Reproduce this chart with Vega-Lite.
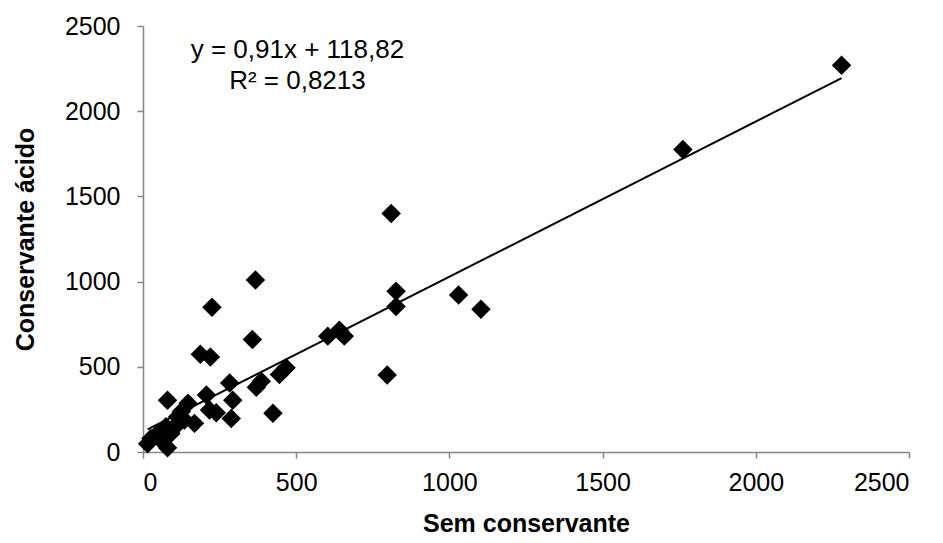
{
  "$schema": "https://vega.github.io/schema/vega-lite/v6.json",
  "width": 766,
  "height": 426,
  "autosize": {"type": "none"},
  "padding": {"left": 143, "top": 26, "right": 34, "bottom": 91},
  "background": "white",
  "config": {
    "view": {"stroke": null},
    "font": "Liberation Sans",
    "axis": {
      "grid": false,
      "domainColor": "#868686",
      "domainWidth": 1.5,
      "tickColor": "#868686",
      "tickWidth": 1.5,
      "tickSize": 6,
      "labelFont": "Liberation Sans",
      "labelFontSize": 25,
      "labelColor": "#000000",
      "titleFont": "Liberation Sans",
      "titleFontSize": 25,
      "titleFontWeight": "bold",
      "titleColor": "#000000"
    }
  },
  "datasets": {
    "pts": [
      {"sem": 2280, "acido": 2270},
      {"sem": 1762, "acido": 1775},
      {"sem": 810, "acido": 1400},
      {"sem": 826, "acido": 944},
      {"sem": 826, "acido": 854},
      {"sem": 1030, "acido": 922},
      {"sem": 1103, "acido": 838},
      {"sem": 797, "acido": 452},
      {"sem": 603, "acido": 680},
      {"sem": 641, "acido": 715},
      {"sem": 657, "acido": 680},
      {"sem": 367, "acido": 1010},
      {"sem": 225, "acido": 850},
      {"sem": 357, "acido": 660},
      {"sem": 187, "acido": 573},
      {"sem": 220, "acido": 557},
      {"sem": 467, "acido": 495},
      {"sem": 445, "acido": 455},
      {"sem": 386, "acido": 415},
      {"sem": 370, "acido": 380},
      {"sem": 283, "acido": 405},
      {"sem": 207, "acido": 334},
      {"sem": 293, "acido": 303},
      {"sem": 288, "acido": 197},
      {"sem": 424, "acido": 227},
      {"sem": 147, "acido": 286},
      {"sem": 217, "acido": 247},
      {"sem": 239, "acido": 230},
      {"sem": 168, "acido": 168},
      {"sem": 125, "acido": 237},
      {"sem": 80, "acido": 303},
      {"sem": 113, "acido": 207},
      {"sem": 135, "acido": 188},
      {"sem": 75, "acido": 148},
      {"sem": 48, "acido": 109},
      {"sem": 26, "acido": 79},
      {"sem": 15, "acido": 49},
      {"sem": 80, "acido": 25},
      {"sem": 59, "acido": 69},
      {"sem": 91, "acido": 109},
      {"sem": 100, "acido": 140},
      {"sem": 110, "acido": 160},
      {"sem": 60, "acido": 120}
    ],
    "trend": [
      {"sem": 15, "acido": 132.5},
      {"sem": 2280, "acido": 2193.6}
    ],
    "eq": [
      {"sem": 504, "acido": 2360, "label": "y = 0,91x + 118,82"},
      {"sem": 504, "acido": 2178, "label": "R² = 0,8213"}
    ]
  },
  "layer": [
    {
      "data": {"name": "pts"},
      "mark": {"type": "point", "shape": "diamond", "filled": true, "size": 380, "color": "#000000", "opacity": 1},
      "encoding": {
        "x": {
          "field": "sem", "type": "quantitative",
          "scale": {"domain": [0, 2500], "nice": false},
          "axis": {"values": [0, 500, 1000, 1500, 2000, 2500], "format": "d", "title": "Sem conservante", "labelPadding": 12, "titlePadding": 16}
        },
        "y": {
          "field": "acido", "type": "quantitative",
          "scale": {"domain": [0, 2500], "nice": false},
          "axis": {"values": [0, 500, 1000, 1500, 2000, 2500], "format": "d", "title": "Conservante ácido", "labelPadding": 17, "titlePadding": 26}
        }
      }
    },
    {
      "data": {"name": "trend"},
      "mark": {"type": "line", "color": "#000000", "strokeWidth": 2},
      "encoding": {
        "x": {"field": "sem", "type": "quantitative"},
        "y": {"field": "acido", "type": "quantitative"}
      }
    },
    {
      "data": {"name": "eq"},
      "mark": {"type": "text", "fontSize": 26, "font": "Liberation Sans", "color": "#000000", "align": "center", "baseline": "middle"},
      "encoding": {
        "x": {"field": "sem", "type": "quantitative"},
        "y": {"field": "acido", "type": "quantitative"},
        "text": {"field": "label"}
      }
    }
  ]
}
